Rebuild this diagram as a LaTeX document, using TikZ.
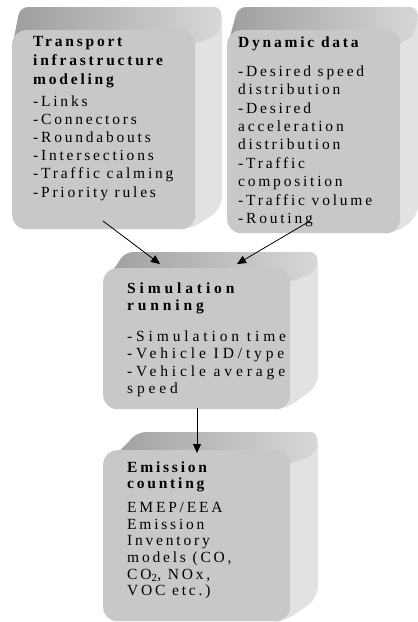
\documentclass[tikz,border=0pt]{standalone}
\usepackage{fontspec}
\setmainfont{Liberation Serif}
\newfontfamily\spaced[LetterSpace=18]{Liberation Serif}
\newfontfamily\spacedw[LetterSpace=25]{Liberation Serif}
\usetikzlibrary{arrows.meta}
\definecolor{frontc}{RGB}{200,200,200}
\definecolor{sidec}{RGB}{226,226,226}
\definecolor{topL}{RGB}{158,158,158}
\definecolor{topR}{RGB}{215,215,215}
\tikzset{
  frontface/.style={fill=frontc, rounded corners=14pt, inner sep=0pt, anchor=north west},
  sideface/.style={fill=sidec, rounded corners=12pt},
  topface/.style={left color=topL, right color=topR, rounded corners=8pt},
  boxtext/.style={anchor=north west, inner sep=0pt, align=left, text=black},
  arr/.style={draw=black, line width=0.8pt, -{Triangle[length=9pt,width=8pt]}}
}
% name, x0, y0, x1, y1, ldx, dy, rdx, bdy
\newcommand{\bevelbox}[9]{%
  \pgfmathsetmacro\bvw{#4-#2}%
  \pgfmathsetmacro\bvh{#5-#3}%
  \fill[sideface] (#4-24,#3-#7) -- (#4+#8,#3-#7) -- (#4+#8,#5-#9) -- (#4-6,#5+1) -- (#4-24,#5) -- cycle;
  \shade[topface] (#2,#3+18) -- (#2+#6,#3-#7) -- (#4+#8,#3-#7) -- (#4+#8-2,#3+4) -- (#4,#3+14) -- cycle;
  \node[frontface, minimum width=\bvw pt, minimum height=\bvh pt] (#1) at (#2,#3) {};
}
\begin{document}
\begin{tikzpicture}[x=1pt,y=-1pt]
\useasboundingbox (0,0) rectangle (418,622);
\bevelbox{b1}{12}{30}{195}{229}{8}{23}{27}{20}
\bevelbox{b2}{227}{30}{400}{233}{11}{23}{18}{16}
\bevelbox{b3}{103}{268}{290}{409}{22}{16}{28}{23}
\bevelbox{b4}{103}{450}{290}{621}{35}{18}{28}{23}

\node[boxtext, font=\fontsize{15.5}{18.2}\spaced] (t1) at (33,35.7)
  {\textbf{Transport}\\[0.8pt]\textbf{infrastructure}\\[0.8pt]\textbf{modeling}\\[3.8pt]
   -Links\\-Connectors\\-Roundabouts\\-Intersections\\-Traffic calming\\-Priority rules};
\node[boxtext, font=\fontsize{15.5}{18.4}\spaced] (t2) at (238,36.1)
  {\textbf{Dynamic data}\\[10.9pt]
   -Desired speed\\distribution\\-Desired\\acceleration\\distribution\\-Traffic\\composition\\-Traffic volume\\-Routing};
\node[boxtext, font=\fontsize{15.5}{17.5}\spacedw] (t3) at (127,282.6)
  {\textbf{Simulation}\\[-0.5pt]\textbf{running}\\[13.2pt]
   -Simulation time\\-Vehicle ID/type\\-Vehicle average\\speed};
\node[boxtext, font=\fontsize{15.5}{16.7}\spaced] (t4) at (127,461.4)
  {\textbf{Emission}\\[-0.4pt]\textbf{counting}\\[7pt]
   EMEP/EEA\\Emission\\Inventory\\models (CO,\\CO\textsubscript{2}, NOx,\\VOC etc.)};

\coordinate (s1) at (103,221);
\coordinate (e1) at (160,264);
\coordinate (s2) at (310,221);
\coordinate (e2) at (237,264);
\coordinate (s3) at (197,408);
\coordinate (e3) at (197,453);
\draw[arr] (s1) -- (e1);
\draw[arr] (s2) -- (e2);
\draw[arr] (s3) -- (e3);
\end{tikzpicture}
\end{document}
